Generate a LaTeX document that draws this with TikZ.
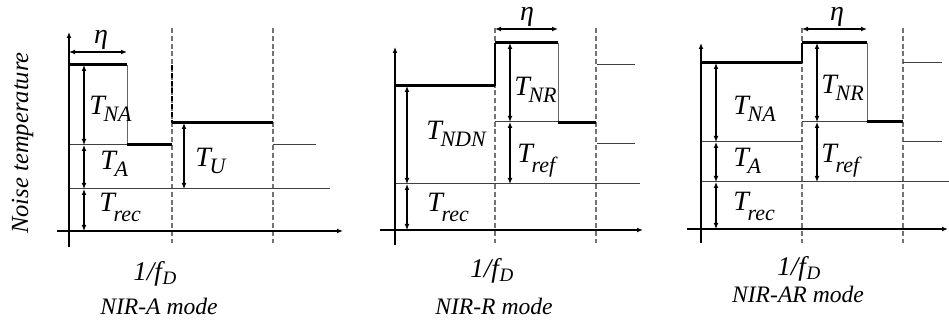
\documentclass[tikz,border=0pt]{standalone}
\usepackage{fontspec}
\setmainfont{Liberation Serif}
\usepackage{tikz}
\usetikzlibrary{arrows.meta}

% labels
\newcommand{\tsym}[2][-3.5pt]{{\fontsize{14}{14}\selectfont\itshape T\kern-0.05em\raisebox{#1}{\fontsize{11}{11}\selectfont #2}}}
\newcommand{\fdlab}{{\fontsize{13.5}{13.5}\selectfont\itshape 1/f\kern0.03em\raisebox{-2pt}{\fontsize{9.5}{9.5}\selectfont D}}}
\newcommand{\etalab}{{\fontsize{14}{14}\selectfont\itshape η}}
\newcommand{\modelab}[1]{{\fontsize{11.8}{11.8}\selectfont\itshape #1}}

\begin{document}
\begin{tikzpicture}[x=0.5pt, y=-0.5pt,
    axis/.style={line width=0.6pt, -{Latex[length=3pt,width=2.4pt]}},
    level/.style={line width=1.5pt},
    base/.style={line width=0.5pt, black!75},
    edge/.style={line width=0.5pt, black!60},
    period/.style={line width=0.55pt, black!55, dash pattern=on 2.5pt off 1.4pt},
    dim/.style={line width=0.55pt, {Latex[length=3pt,width=2.4pt]}-{Latex[length=3pt,width=2.4pt]}},
    lab/.style={anchor=base west, inner sep=0pt}]
    \useasboundingbox (0,0) rectangle (949,324);

    % Axis title
    \node[anchor=base, inner sep=0pt, rotate=90] (ytitle) at (28,143)
        {\modelab{\fontsize{12.3}{12.3}\selectfont Noise temperature}};

    % NIR-A mode
    \draw[period] (172,28) -- (172,243);
    \draw[period] (273,28) -- (273,243);
    \draw[period, black] (172,65) -- (172,123);
    \draw[base] (69,145) -- (127,145);
    \draw[base] (273,145) -- (316,145);
    \draw[base] (69,189) -- (330,189);
    \draw[edge] (127,65) -- (127,145);
    \draw[level] (69,65) -- (127,65);
    \draw[level] (127,145) -- (172,145);
    \draw[level] (172,123) -- (273,123);
    \draw[axis] (57,231) -- (343,231);
    \draw[axis] (69,247) -- (69,32);
    \draw[dim] (69,52) -- (127,52);
    \draw[dim] (84,65) -- (84,145);
    \draw[dim] (84,145) -- (84,189);
    \draw[dim] (84,189) -- (84,231);
    \draw[dim] (184,123) -- (184,189);
    \node[anchor=base, inner sep=0pt] (etaA) at (101,44) {\etalab};
    \node[lab] (tnaA) at (89,115) {\tsym{NA}};
    \node[lab] (taA) at (100,170) {\tsym{A}};
    \node[lab] (trecA) at (99,212) {\tsym[-5pt]{rec}};
    \node[lab] (tuA) at (195,167) {\tsym{U}};
    \node[lab] (fdA) at (133,281) {\fdlab};
    \node[anchor=base, inner sep=0pt] (modeA) at (159,315) {\modelab{NIR-A mode}};

    % NIR-R mode
    \draw[period] (495,28) -- (495,243);
    \draw[period] (596,28) -- (596,243);
    \draw[line width=0.6pt] (495,43) -- (495,86);
    \draw[base] (495,122) -- (558,122);
    \draw[base] (395,184) -- (640,184);
    \draw[base] (597,65) -- (635,65);
    \draw[base] (597,144) -- (635,144);
    \draw[edge] (558,43) -- (558,123);
    \draw[level] (395,86) -- (495,86);
    \draw[level] (495,43) -- (558,43);
    \draw[level] (558,123) -- (596,123);
    \draw[axis] (380,230) -- (643,230);
    \draw[axis] (395,245) -- (395,47);
    \draw[dim] (495,29) -- (558,29);
    \draw[dim] (407,86) -- (407,184);
    \draw[dim] (407,184) -- (407,230);
    \draw[dim] (510,43) -- (510,122);
    \draw[dim] (510,122) -- (510,184);
    \node[anchor=base, inner sep=0pt] (etaR) at (527,21) {\etalab};
    \node[lab] (tnrR) at (514,96) {\tsym{NR}};
    \node[lab] (tndnR) at (426,140) {\tsym{NDN}};
    \node[lab] (trefR) at (517,163) {\tsym[-5pt]{ref}};
    \node[lab] (trecR) at (427,212) {\tsym[-5pt]{rec}};
    \node[lab] (fdR) at (470,278) {\fdlab};
    \node[anchor=base, inner sep=0pt] (modeR) at (494,315) {\modelab{NIR-R mode}};

    % NIR-AR mode
    \draw[period] (802,28) -- (802,243);
    \draw[period] (903,28) -- (903,243);
    \draw[line width=0.6pt] (802,43) -- (802,63);
    \draw[base] (802,122) -- (867,122);
    \draw[base] (701,142) -- (802,142);
    \draw[base] (903,63) -- (942,63);
    \draw[base] (903,142) -- (942,142);
    \draw[base] (701,182) -- (949,182);
    \draw[edge] (867,43) -- (867,122);
    \draw[level] (701,63) -- (802,63);
    \draw[level] (802,43) -- (867,43);
    \draw[level] (867,122) -- (903,122);
    \draw[axis] (687,229) -- (948,229);
    \draw[axis] (701,243) -- (701,43);
    \draw[dim] (802,29) -- (867,29);
    \draw[dim] (716,63) -- (716,142);
    \draw[dim] (716,142) -- (716,182);
    \draw[dim] (716,182) -- (716,229);
    \draw[dim] (817,43) -- (817,122);
    \draw[dim] (817,122) -- (817,182);
    \node[anchor=base, inner sep=0pt] (etaAR) at (837,21) {\etalab};
    \node[lab] (tnrAR) at (821,94) {\tsym{NR}};
    \node[lab] (tnaAR) at (733,115) {\tsym{NA}};
    \node[lab] (taAR) at (733,167) {\tsym{A}};
    \node[lab] (trefAR) at (821,163) {\tsym[-5pt]{ref}};
    \node[lab] (trecAR) at (733,211) {\tsym[-5pt]{rec}};
    \node[lab] (fdAR) at (777,276) {\fdlab};
    \node[anchor=base, inner sep=0pt] (modeAR) at (798,303) {\modelab{NIR-AR mode}};
\end{tikzpicture}
\end{document}
